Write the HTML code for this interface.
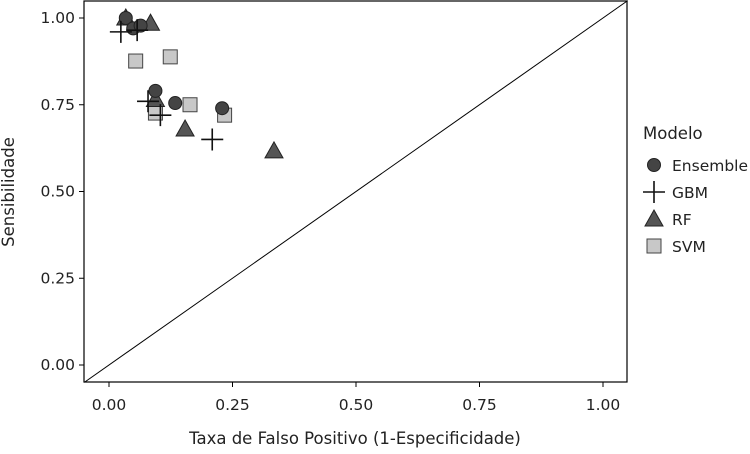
<!DOCTYPE html>
<html><head><meta charset="utf-8"><style>
body{margin:0;background:#fff;font-family:"DejaVu Sans","Liberation Sans",sans-serif;}
text{font-family:"DejaVu Sans","Liberation Sans",sans-serif;}
</style></head><body>
<svg id="chart" width="750" height="450" xmlns="http://www.w3.org/2000/svg"></svg>
<script>
const xTicks=[0,0.25,0.5,0.75,1];
const xTickLabels=["0.00","0.25","0.50","0.75","1.00"];
const yTicks=[0,0.25,0.5,0.75,1];
const yTickLabels=["0.00","0.25","0.50","0.75","1.00"];
const ensembleX=[0.034,0.049,0.064,0.094,0.134,0.229];
const ensembleY=[1.0,0.97,0.978,0.79,0.755,0.74];
const gbmX=[0.024,0.057,0.079,0.104,0.209];
const gbmY=[0.96,0.965,0.76,0.72,0.65];
const rfX=[0.034,0.084,0.094,0.154,0.334];
const rfY=[1.0,0.985,0.765,0.68,0.617];
const svmX=[0.054,0.124,0.094,0.164,0.234];
const svmY=[0.876,0.888,0.726,0.75,0.72];
const legendLabels=["Ensemble","GBM","RF","SVM"];

const NS="http://www.w3.org/2000/svg";
const svg=document.getElementById('chart');
const L=84,R=627,T=1,B=382;
const xs=v=>109+v*494;
const ys=v=>365-v*347;
function el(t,a,p){const e=document.createElementNS(NS,t);for(const k in a)e.setAttribute(k,a[k]);(p||svg).appendChild(e);return e;}
function txt(s,a,p){const e=el('text',a,p);e.textContent=s;return e;}

const frame=el('rect',{x:L,y:T,width:R-L,height:B-T,fill:'none',stroke:'#000','stroke-width':1.2});


const diag=el('line',{x1:xs(-0.05),y1:ys(-0.05),x2:xs(1.05),y2:ys(1.05),stroke:'#000','stroke-width':1});


svg.insertBefore(diag,frame);

xTicks.forEach((v,i)=>{
  const l=el('line',{x1:xs(v),x2:xs(v),y1:B,y2:B+5,stroke:'#000'});
  
  
  const t=txt(xTickLabels[i],{x:xs(v),y:B+28,'text-anchor':'middle','font-size':15.5,fill:'#222'});
  
  
});
yTicks.forEach((v,i)=>{
  const l=el('line',{x1:L-5,x2:L,y1:ys(v),y2:ys(v),stroke:'#000'});
  
  
  const t=txt(yTickLabels[i],{x:L-9,y:ys(v)+5,'text-anchor':'end','font-size':15.5,fill:'#222'});
  
  
});
const xt=txt("Taxa de Falso Positivo (1-Especificidade)",{x:355,y:444,'text-anchor':'middle','font-size':16.5,fill:'#222'});


const yt=txt("Sensibilidade",{x:0,y:0,'text-anchor':'middle','font-size':16.5,fill:'#222',transform:'translate(14,192) rotate(-90)'});



function marker(type,cx,cy,g){
  let m;
  if(type==='circle') m=el('circle',{cx,cy,r:6.5,fill:'#444',stroke:'#222','stroke-width':1},g);
  else if(type==='plus'){m=el('path',{d:`M${cx-11},${cy}H${cx+11}M${cx},${cy-11}V${cy+11}`,stroke:'#111','stroke-width':1.6,fill:'none'},g);}
  else if(type==='tri') m=el('polygon',{points:`${cx},${cy-9} ${cx-9},${cy+7} ${cx+9},${cy+7}`,fill:'#555',stroke:'#222','stroke-width':1},g);
  else m=el('rect',{x:cx-7,y:cy-7,width:14,height:14,fill:'#c8c8c8',stroke:'#444','stroke-width':1},g);
  return m;
}
const series=[[svmX,svmY,'square','svm'],[rfX,rfY,'tri','rf'],[ensembleX,ensembleY,'circle','ensemble'],[gbmX,gbmY,'plus','gbm']];
series.forEach(([X,Y,t,n])=>{
  const g=el('g',{});
  
  
  X.forEach((v,i)=>{
    const m=marker(t,xs(v),ys(Y[i]),g);
    
    
  });
});

const lg=el('g',{});


const lt=txt("Modelo",{x:643,y:139,'font-size':16.5,fill:'#222'},lg);


const types=['circle','plus','tri','square'];
legendLabels.forEach((s,i)=>{
  const cy=165+i*27;
  const g=el('g',{},lg);
  
  
  marker(types[i],654,cy,g);
  txt(s,{x:672,y:cy+6,'font-size':15.5,fill:'#222'},g);
});
</script>
</body></html>
